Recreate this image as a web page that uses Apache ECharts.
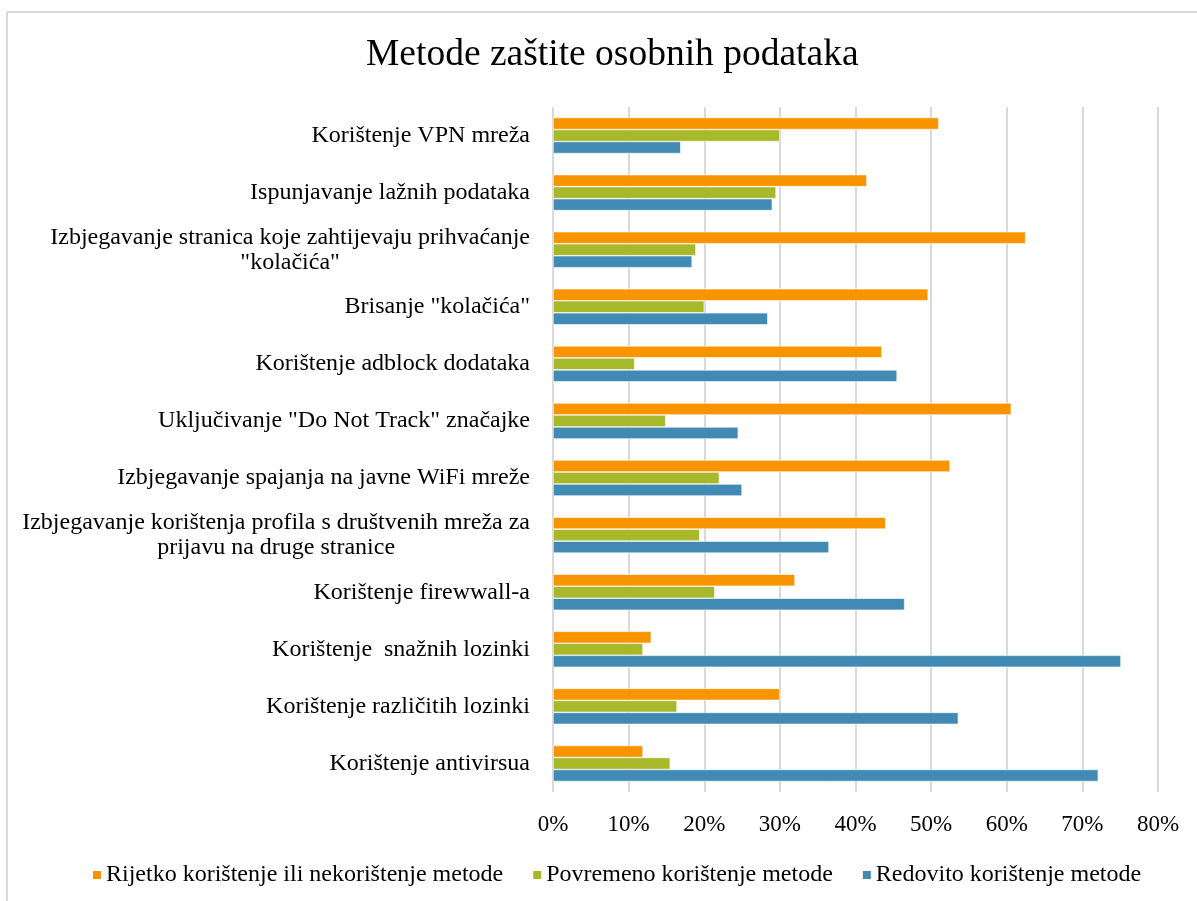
<!DOCTYPE html>
<html>
<head>
<meta charset="utf-8">
<script src="https://cdn.jsdelivr.net/npm/echarts@6/dist/echarts.min.js"></script>
<style>
  html, body { margin: 0; padding: 0; background: #fff; }
  #chart { width: 1197px; height: 901px; }
  #frame {
    position: absolute; left: 6px; top: 11px; width: 1300px; height: 1000px;
    border-left: 2px solid #d9d9d9; border-top: 2px solid #d9d9d9;
    pointer-events: none;
  }
</style>
</head>
<body>
<div id="chart"></div>
<div id="frame"></div>
<script>
const categories = [
  'Korištenje VPN mreža',
  'Ispunjavanje lažnih podataka',
  'Izbjegavanje stranica koje zahtijevaju prihvaćanje\n"kolačića"',
  'Brisanje "kolačića"',
  'Korištenje adblock dodataka',
  'Uključivanje "Do Not Track" značajke',
  'Izbjegavanje spajanja na javne WiFi mreže',
  'Izbjegavanje korištenja profila s društvenih mreža za\nprijavu na druge stranice',
  'Korištenje firewwall-a',
  'Korištenje  snažnih lozinki',
  'Korištenje različitih lozinki',
  'Korištenje antivirsua'
]

const rijetko = [51, 41.5, 62.5, 49.6, 43.5, 60.6, 52.5, 44, 32, 13, 30, 11.9]
const povremeno = [30, 29.5, 18.9, 20, 10.8, 14.9, 22, 19.4, 21.4, 11.9, 16.4, 15.5]
const redovito = [16.9, 29, 18.4, 28.4, 45.5, 24.5, 25, 36.5, 46.5, 75.1, 53.6, 72.1]

const seriesNames = [
  'Rijetko korištenje ili nekorištenje metode',
  'Povremeno korištenje metode',
  'Redovito korištenje metode'
]
const colors = ['#f79400', '#a7b82a', '#418ab3']

const font = '"Liberation Serif", "Times New Roman", serif'

const chart = echarts.init(document.getElementById('chart'))

const mkSeries = (name, data, color) => ({
  name,
  type: 'bar',
  data,
  barWidth: 12,
  barGap: '0%',
  itemStyle: { color, borderColor: '#ffffff', borderWidth: 0.6 },
  emphasis: { disabled: true }
})

chart.setOption({
  animation: false,
  backgroundColor: '#ffffff',
  color: colors,
  title: {
    text: 'Metode zaštite osobnih podataka',
    left: 361,
    top: 31,
    textStyle: { fontFamily: font, fontSize: 37.5, fontWeight: 'normal', color: '#000' }
  },
  legend: {
    left: 86,
    top: 858,
    itemWidth: 10,
    itemHeight: 10,
    itemGap: 28,
    icon: 'rect',
    textStyle: { fontFamily: font, fontSize: 24, color: '#000', padding: [0, 0, 0, -1] },
    data: seriesNames
  },
  grid: { left: 553, right: 39, top: 107, bottom: 109, containLabel: false },
  xAxis: {
    type: 'value',
    min: 0,
    max: 80,
    interval: 10,
    axisLine: { show: false },
    axisTick: { show: false },
    axisLabel: {
      formatter: '{value}%',
      margin: 21,
      fontFamily: font,
      fontSize: 23,
      color: '#000'
    },
    splitLine: { lineStyle: { color: '#d9d9d9', width: 2 } }
  },
  yAxis: {
    type: 'category',
    inverse: true,
    data: categories,
    axisLine: { show: false },
    axisTick: { show: false },
    axisLabel: {
      margin: 23,
      fontFamily: font,
      fontSize: 24,
      color: '#000',
      lineHeight: 25,
      formatter: v => v.split('\n').map(s => '{c|' + s + '}').join('\n'),
      rich: {
        c: { align: 'center', fontFamily: font, fontSize: 24, color: '#000', lineHeight: 25 }
      }
    }
  },
  series: [
    mkSeries(seriesNames[0], rijetko, colors[0]),
    mkSeries(seriesNames[1], povremeno, colors[1]),
    mkSeries(seriesNames[2], redovito, colors[2])
  ]
})

window.addEventListener('resize', () => chart.resize())
</script>
</body>
</html>
